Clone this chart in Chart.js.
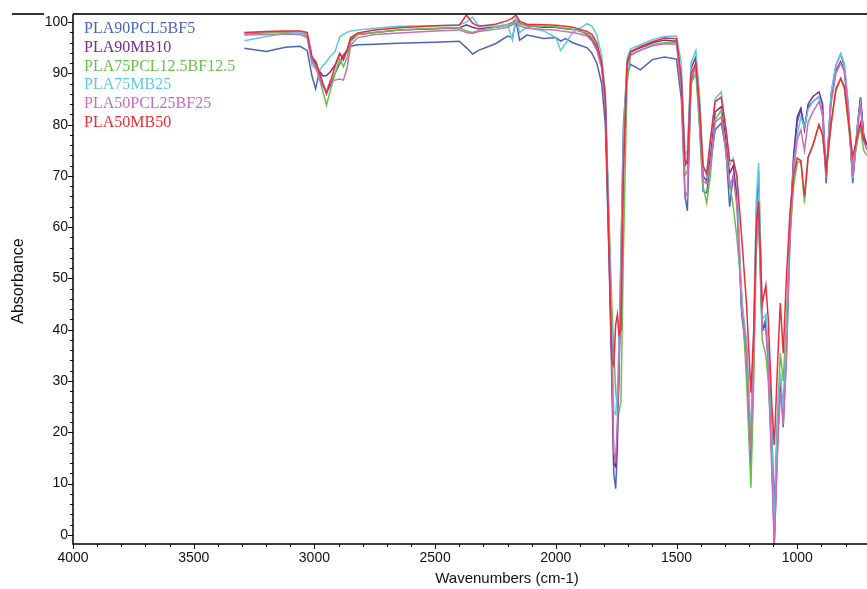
<!DOCTYPE html>
<html>
<head>
<meta charset="utf-8">
<script src="https://cdn.jsdelivr.net/npm/chart.js@4.4.1/dist/chart.umd.min.js"></script>
<style>
  html, body { margin: 0; padding: 0; background: #fff; }
  canvas { display: block; }
</style>
</head>
<body>
<canvas id="ftir" width="867" height="589"></canvas>
<script>
// wavenumbers (cm-1), shared by all spectra
const wavenumbers = [3290, 3200, 3120, 3060, 3030, 3010, 2995, 2980, 2965, 2950,
  2935, 2915, 2895, 2880, 2865, 2850, 2820, 2750, 2650, 2500,
  2400, 2370, 2345, 2320, 2250, 2200, 2180, 2165, 2150, 2120,
  2050, 2000, 1980, 1960, 1930, 1900, 1870, 1850, 1830, 1810,
  1795, 1780, 1768, 1760, 1752, 1745, 1738, 1730, 1720, 1705,
  1690, 1650, 1600, 1550, 1500, 1480, 1465, 1455, 1440, 1420,
  1405, 1390, 1375, 1360, 1340, 1315, 1295, 1280, 1265, 1250,
  1230, 1210, 1192, 1180, 1170, 1160, 1145, 1130, 1120, 1105,
  1095, 1080, 1070, 1058, 1045, 1030, 1015, 1000, 985, 970,
  955, 935, 910, 895, 880, 860, 840, 820, 805, 790,
  770, 750, 738, 725, 712];

const pla90pcl5bf5 = [94.9, 94.3, 95.1, 95.3, 94.5, 89.5, 87.0, 90.3, 88.0, 86.3,
  87.5, 90.0, 91.9, 93.6, 94.5, 95.3, 95.6, 95.7, 95.9, 96.1,
  96.3, 95.0, 93.8, 94.5, 95.8, 97.3, 97.0, 100.2, 96.5, 97.5,
  96.8, 97.0, 96.3, 96.8, 96.0, 95.5, 95.0, 93.9, 92.0, 88.0,
  80.0, 55.0, 30.0, 12.0, 9.0, 17.0, 35.0, 55.0, 80.0, 90.0,
  91.8, 90.7, 92.7, 93.2, 92.8, 85.0, 66.0, 63.2, 88.0, 92.0,
  80.0, 67.0, 66.7, 72.0, 79.0, 80.3, 75.0, 64.0, 70.0, 67.0,
  43.0, 35.0, 12.7, 35.0, 62.0, 71.0, 40.0, 42.0, 35.0, 20.0,
  5.0, 25.0, 31.5, 21.0, 35.0, 58.0, 73.0, 80.5, 83.0, 79.5,
  83.5, 84.5, 85.5, 82.0, 68.6, 86.0, 91.5, 93.8, 91.5, 84.0,
  68.6, 80.0, 85.4, 78.0, 76.0];

const pla90mb10 = [97.8, 98.0, 98.1, 98.0, 97.5, 93.0, 91.8, 90.5, 89.5, 89.6,
  90.3, 91.6, 93.9, 92.9, 94.5, 96.6, 97.6, 98.0, 98.5, 98.7,
  98.9, 99.5, 99.0, 98.7, 99.0, 99.5, 99.9, 100.6, 99.8, 99.3,
  99.0, 99.0, 98.8, 98.7, 98.6, 98.3, 97.6, 96.6, 95.0, 91.5,
  84.0, 60.0, 35.0, 14.0, 13.3, 20.0, 32.0, 50.0, 75.0, 92.0,
  94.2, 95.0, 96.0, 96.5, 96.3, 88.0, 72.0, 73.0, 91.0, 93.2,
  84.0, 70.0, 69.0, 74.0, 82.5, 83.5, 77.0, 70.5, 72.0, 66.0,
  44.0, 36.0, 17.0, 38.0, 58.0, 64.0, 40.0, 41.0, 34.0, 15.0,
  -1.7, 20.0, 30.0, 24.0, 38.0, 60.0, 74.0, 81.5, 83.2, 79.0,
  84.0, 85.5, 86.4, 84.0, 70.0, 85.0, 90.5, 92.3, 90.5, 84.0,
  69.5, 80.0, 85.0, 78.0, 76.0];

const pla75pcl125bf125 = [97.8, 98.0, 98.1, 98.0, 97.6, 92.6, 91.4, 89.0, 86.5, 83.8,
  86.5, 89.9, 92.9, 91.3, 93.0, 96.2, 97.6, 98.0, 98.5, 98.8,
  98.9, 98.3, 98.0, 98.4, 99.0, 99.4, 99.8, 100.4, 99.7, 99.3,
  99.2, 99.1, 98.9, 98.8, 98.6, 98.3, 97.8, 97.0, 95.6, 92.0,
  85.0, 62.0, 45.0, 36.0, 28.0, 25.0, 24.0, 26.0, 55.0, 88.0,
  93.5, 94.5, 95.6, 96.0, 96.0, 88.0, 70.0, 71.0, 88.0, 90.0,
  80.0, 68.0, 64.7, 70.0, 81.0, 82.8, 74.0, 69.0, 64.0, 58.0,
  47.0, 30.0, 9.2, 30.0, 55.0, 62.0, 38.0, 35.0, 30.0, 15.0,
  0.3, 25.0, 35.4, 30.0, 42.0, 58.0, 68.0, 72.5, 73.0, 64.7,
  73.5, 76.0, 80.0, 78.0, 70.5, 80.0, 86.5, 89.0, 87.0, 81.0,
  71.2, 77.0, 79.5, 75.0, 74.0];

const pla75mb25 = [96.4, 97.2, 97.8, 98.0, 97.2, 91.6, 90.9, 90.5, 91.5, 92.3,
  93.3, 94.2, 97.1, 97.6, 98.0, 98.3, 98.5, 98.8, 99.2, 99.3,
  99.5, 100.0, 101.0, 99.3, 99.2, 99.6, 96.5, 100.8, 98.0, 99.0,
  98.3, 97.0, 94.5, 95.8, 98.0, 98.8, 99.7, 99.2, 97.5, 93.5,
  86.0, 62.0, 40.0, 24.0, 23.5, 28.0, 38.0, 55.0, 78.0, 93.0,
  94.8, 95.6, 96.6, 97.2, 97.3, 92.0, 74.0, 75.0, 92.0, 94.5,
  86.0, 72.0, 70.0, 76.0, 85.0, 86.4, 79.0, 72.0, 73.5, 70.0,
  46.0, 38.0, 18.5, 40.0, 65.0, 72.5, 42.0, 43.0, 36.0, 18.0,
  0.5, 25.0, 31.5, 24.0, 38.0, 60.0, 72.0, 78.0, 81.5, 79.5,
  83.0, 84.5, 85.5, 82.0, 70.0, 86.0, 91.5, 93.9, 92.0, 85.0,
  69.5, 80.0, 84.0, 77.0, 75.5];

const pla50pcl25bf25 = [97.5, 97.6, 97.7, 97.6, 97.0, 92.3, 91.2, 89.2, 87.5, 86.5,
  88.5, 88.7, 88.9, 88.7, 91.0, 95.5, 97.0, 97.6, 97.9, 98.3,
  98.5, 98.0, 97.8, 98.2, 98.6, 99.0, 99.5, 100.0, 99.3, 98.8,
  98.6, 98.5, 98.3, 98.2, 98.0, 97.7, 97.3, 96.3, 94.5, 91.0,
  84.0, 60.0, 35.0, 16.0, 14.5, 22.0, 34.0, 50.0, 75.0, 91.0,
  93.8, 94.5, 95.4, 95.8, 95.7, 87.0, 67.0, 66.0, 89.0, 91.5,
  82.0, 69.0, 68.5, 72.0, 80.5, 81.5, 75.0, 68.0, 70.0, 64.0,
  44.0, 36.0, 16.5, 36.0, 58.0, 63.0, 40.0, 40.0, 33.0, 12.0,
  -1.7, 18.0, 28.0, 21.5, 34.0, 58.0, 71.0, 77.0, 79.0, 75.0,
  80.5, 82.5, 84.5, 82.0, 69.5, 84.0, 90.0, 92.0, 90.5, 84.0,
  70.0, 79.0, 84.0, 77.0, 75.0];

const pla50mb50 = [98.0, 98.2, 98.3, 98.3, 98.0, 93.2, 92.4, 90.3, 88.0, 86.0,
  88.3, 91.3, 93.9, 92.6, 94.5, 97.0, 97.9, 98.5, 98.9, 99.3,
  99.4, 101.4, 99.8, 99.2, 99.6, 100.3, 100.8, 101.4, 100.2, 99.6,
  99.5, 99.4, 99.3, 99.2, 99.0, 98.6, 98.2, 97.6, 96.0, 92.0,
  85.5, 55.0, 34.0, 33.0, 41.0, 43.0, 39.0, 40.0, 70.0, 92.0,
  94.3, 95.2, 96.2, 96.9, 96.8, 89.0, 73.0, 72.5, 90.0, 91.9,
  84.0, 72.0, 70.5, 77.0, 84.5, 85.4, 79.0, 73.0, 73.0, 70.0,
  58.0, 45.0, 27.7, 40.0, 60.0, 65.0, 45.0, 48.7, 42.0, 25.0,
  17.5, 35.0, 45.2, 35.4, 50.0, 63.0, 70.0, 73.5, 73.0, 66.0,
  73.7, 76.0, 80.0, 78.0, 71.2, 80.0, 87.0, 89.0, 87.5, 81.5,
  73.7, 78.0, 80.3, 77.0, 76.0];

const seriesNames = ['PLA90PCL5BF5', 'PLA90MB10', 'PLA75PCL12.5BF12.5', 'PLA75MB25', 'PLA50PCL25BF25', 'PLA50MB50'];
const seriesValues = [pla90pcl5bf5, pla90mb10, pla75pcl125bf125, pla75mb25, pla50pcl25bf25, pla50mb50];
const seriesColors = ['#4a64b9', '#7d2b8b', '#6abf4b', '#5ec9e0', '#cc6bbb', '#ee2b38'];
const drawOrder = [5, 4, 3, 2, 1, 0];

const xTicks = [4000, 3500, 3000, 2500, 2000, 1500, 1000];
const yTicks = [0, 10, 20, 30, 40, 50, 60, 70, 80, 90, 100];

// axis lines, tick marks, titles and the in-plot legend
const framePlugin = {
  id: 'frame',
  afterDraw(chart) {
    const { ctx, chartArea: a, scales: { x, y } } = chart;
    ctx.save();
    ctx.strokeStyle = '#000';
    ctx.lineWidth = 1.5;
    ctx.beginPath();
    ctx.moveTo(a.left, a.top);
    ctx.lineTo(a.left, a.bottom);
    ctx.lineTo(a.right, a.bottom);
    ctx.stroke();

    ctx.strokeStyle = '#333';
    ctx.lineWidth = 2;
    ctx.beginPath();
    ctx.moveTo(a.left, a.top);
    ctx.lineTo(a.right, a.top);
    ctx.moveTo(12, a.top);
    ctx.lineTo(44, a.top);
    ctx.stroke();

    ctx.strokeStyle = '#000';
    ctx.lineWidth = 1;
    ctx.beginPath();
    for (let w = 4000; w >= x.min; w -= 100) {
      const px = Math.round(x.getPixelForValue(w)) + 0.5;
      const len = w % 500 === 0 ? 5 : 3;
      ctx.moveTo(px, a.bottom);
      ctx.lineTo(px, a.bottom + len);
    }
    for (let v = 0; v <= 100; v += 2) {
      const py = Math.round(y.getPixelForValue(v)) + 0.5;
      const len = v % 10 === 0 ? 5 : 3;
      ctx.moveTo(a.left, py);
      ctx.lineTo(a.left - len, py);
    }
    ctx.stroke();

    // axis titles
    ctx.fillStyle = '#111';
    ctx.textAlign = 'center';
    ctx.textBaseline = 'middle';
    ctx.font = '15px "Liberation Sans", Arial, sans-serif';
    ctx.fillText('Wavenumbers (cm-1)', 507, 579);
    ctx.save();
    ctx.translate(19, 281);
    ctx.rotate(-Math.PI / 2);
    ctx.font = '16px "Liberation Sans", Arial, sans-serif';
    ctx.fillText('Absorbance', 0, 0);
    ctx.restore();

    // legend
    ctx.textAlign = 'left';
    ctx.font = '16px "Liberation Serif", "Times New Roman", serif';
    chart.data.datasets.forEach((ds, i) => {
      ctx.fillStyle = ds.borderColor;
      ctx.fillText(ds.label, 84, 29 + i * 18.7);
    });
    ctx.restore();
  }
};

Chart.defaults.font.family = '"Liberation Sans", Arial, sans-serif';
Chart.defaults.color = '#111';

new Chart(document.getElementById('ftir'), {
  type: 'line',
  data: {
    datasets: seriesValues.map((vals, i) => ({
      label: seriesNames[i],
      data: vals.map((v, j) => ({ x: wavenumbers[j], y: v })),
      borderColor: seriesColors[i],
      backgroundColor: seriesColors[i],
      borderWidth: 1.5,
      pointRadius: 0,
      tension: 0,
      fill: false,
      order: drawOrder[i]
    }))
  },
  options: {
    responsive: false,
    animation: false,
    devicePixelRatio: 1,
    layout: { padding: { top: 14, left: 0, right: 0, bottom: 0 } },
    plugins: {
      legend: { display: false },
      tooltip: { enabled: false }
    },
    scales: {
      x: {
        type: 'linear',
        reverse: true,
        min: 711,
        max: 4000,
        grid: { display: false, drawTicks: false },
        border: { display: false },
        afterBuildTicks: (scale) => { scale.ticks = xTicks.map(v => ({ value: v })); },
        afterFit: (scale) => { scale.height = 45; },
        ticks: { autoSkip: false, maxRotation: 0, padding: 6, font: { size: 14 }, color: '#111',
          callback: (v) => String(v) }
      },
      y: {
        type: 'linear',
        min: -1.8,
        max: 101.6,
        grid: { display: false, drawTicks: false },
        border: { display: false },
        afterBuildTicks: (scale) => { scale.ticks = yTicks.map(v => ({ value: v })); },
        afterFit: (scale) => { scale.width = 73; },
        ticks: { autoSkip: false, padding: 5, font: { size: 14 }, color: '#111',
          callback: (v) => String(v) }
      }
    }
  },
  plugins: [framePlugin]
});
</script>
</body>
</html>
